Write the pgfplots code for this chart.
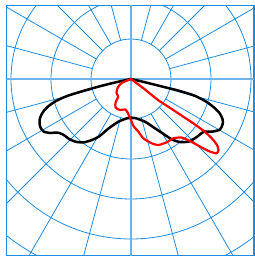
\documentclass[border=0pt]{standalone}
\usepackage{pgfplots}
\pgfplotsset{compat=1.18}
\definecolor{gridblue}{RGB}{30,140,225}
\definecolor{axisblue}{RGB}{110,180,235}
\begin{document}
\begin{tikzpicture}
\begin{axis}[
  x=1pt, y=1pt,
  xmin=-124.5, xmax=123, ymin=-176.5, ymax=73.5,
  ticks=none,
  axis line style={draw=gridblue, line width=1.1pt},
  clip=true,
]
% grid circles
\draw[gridblue, line width=0.8pt] (axis cs:0,0) circle[radius=40];
\draw[gridblue, line width=0.8pt] (axis cs:0,0) circle[radius=80];
\draw[gridblue, line width=0.8pt] (axis cs:0,0) circle[radius=120];
\draw[gridblue, line width=0.8pt] (axis cs:0,0) circle[radius=160];
\draw[gridblue, line width=0.8pt] (axis cs:0,0) circle[radius=200];
% radial lines
\pgfplotsinvokeforeach{15,30,45,60,75,105,120,135,150,165,195,210,225,240,255,285,300,315,330,345}{
  \draw[gridblue, line width=0.8pt] (axis cs:0,0) ++(#1:40pt) -- ++(#1:300pt);
}
\draw[axisblue, line width=1.5pt] (axis cs:-130,0) -- (axis cs:130,0);
\draw[axisblue, line width=1.5pt] (axis cs:0,80) -- (axis cs:0,-180);
% black curve
\addplot[black, line width=2.5pt, smooth, tension=0.4, line join=round] coordinates {
(0,0) (-16,-3.5) (-32,-7.5) (-48,-12) (-64,-17) (-75,-22) (-83,-27.5) (-88,-33)
(-91,-39) (-91.5,-44) (-90.5,-48.5) (-87.5,-52.5) (-81,-54) (-74,-53.5) (-68,-55.5)
(-61,-60.5) (-54,-63) (-47,-63.3) (-39,-61) (-32,-57.5) (-22.5,-49.5) (-12.5,-42.7)
(-3,-39) (4,-39) (14,-42.7) (24,-49.3) (34,-56) (41,-60.5) (49,-63) (58,-62.5)
(65.7,-58) (72.5,-53) (82,-52.5) (89,-50.5) (91.7,-45) (91.5,-40) (88.5,-34)
(83,-28.5) (75,-22.5) (63,-16.5) (47,-11.5) (31,-7.5) (15,-3.5) (0,0)
};
% red curve
\addplot[red, line width=2.2pt, smooth, tension=0.4, line join=round] coordinates {
(0,0) (-9.3,-4) (-13.3,-8.7) (-14.5,-13.7) (-12.8,-17.7) (-15.3,-23) (-15.5,-28.5)
(-11,-31) (-5.5,-30.5) (-2.7,-35) (-0.5,-40) (2.5,-47) (7.3,-52.6) (12.3,-59.3)
(20.7,-64.3) (27.3,-66) (35.7,-63.3) (42.3,-59.3) (50.7,-58.6) (59,-62) (69,-67.6)
(79,-72.6) (85.7,-74.3) (87.5,-71) (86,-66) (81,-59.5) (74,-53) (64,-45.5)
(52,-37.5) (40,-29.5) (27,-21) (14,-10.5) (0,0)
};
\end{axis}
\path ([xshift=-6.5pt,yshift=-2.5pt]current axis.south west) rectangle ([xshift=1pt,yshift=5.5pt]current axis.north east);
\end{tikzpicture}
\end{document}
